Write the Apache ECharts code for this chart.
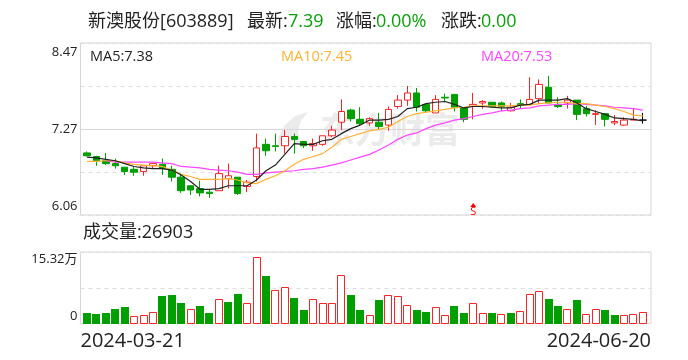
<!DOCTYPE html>
<html><head><meta charset="utf-8">
<style>html,body{margin:0;padding:0;background:#fff}#c{width:688px;height:360px}</style>
<script src="https://cdn.jsdelivr.net/npm/echarts@6/dist/echarts.min.js"></script>
</head><body><div id="c"></div>
<script>
const dates=['2024-03-21','2024-03-22','2024-03-25','2024-03-26','2024-03-27','2024-03-28','2024-03-29','2024-04-01','2024-04-02','2024-04-03','2024-04-08','2024-04-09','2024-04-10','2024-04-11','2024-04-12','2024-04-15','2024-04-16','2024-04-17','2024-04-18','2024-04-19','2024-04-22','2024-04-23','2024-04-24','2024-04-25','2024-04-26','2024-04-29','2024-04-30','2024-05-06','2024-05-07','2024-05-08','2024-05-09','2024-05-10','2024-05-13','2024-05-14','2024-05-15','2024-05-16','2024-05-17','2024-05-20','2024-05-21','2024-05-22','2024-05-23','2024-05-24','2024-05-27','2024-05-28','2024-05-29','2024-05-30','2024-05-31','2024-06-03','2024-06-04','2024-06-05','2024-06-06','2024-06-07','2024-06-11','2024-06-12','2024-06-13','2024-06-14','2024-06-17','2024-06-18','2024-06-19','2024-06-20'];
const opens=[6.93,6.88,6.82,6.78,6.73,6.70,6.67,6.75,6.77,6.70,6.59,6.47,6.43,6.38,6.40,6.57,6.59,6.46,6.60,7.05,7.03,7.03,7.16,7.09,7.03,7.05,7.17,7.36,7.53,7.40,7.35,7.36,7.32,7.58,7.67,7.77,7.61,7.49,7.71,7.75,7.56,7.58,7.63,7.64,7.63,7.52,7.62,7.61,7.69,7.85,7.61,7.63,7.67,7.55,7.47,7.48,7.35,7.32,7.39,7.39];
const closes=[6.89,6.82,6.78,6.75,6.67,6.66,6.75,6.78,6.71,6.59,6.40,6.41,6.37,6.36,6.64,6.61,6.36,6.52,7.00,6.96,7.02,7.16,7.12,7.03,7.06,7.17,7.25,7.51,7.41,7.34,7.41,7.30,7.54,7.67,7.77,7.57,7.52,7.68,7.70,7.57,7.40,7.61,7.65,7.58,7.58,7.57,7.60,7.68,7.89,7.63,7.58,7.67,7.47,7.48,7.48,7.40,7.37,7.39,7.40,7.39];
const lows=[6.88,6.75,6.76,6.71,6.62,6.61,6.61,6.71,6.62,6.53,6.37,6.34,6.32,6.30,6.40,6.43,6.34,6.38,6.53,6.89,6.95,6.92,6.92,7.00,6.96,7.03,7.15,7.25,7.37,7.32,7.31,7.26,7.24,7.55,7.59,7.51,7.49,7.49,7.64,7.51,7.36,7.40,7.55,7.56,7.52,7.51,7.55,7.61,7.62,7.63,7.56,7.55,7.39,7.44,7.32,7.30,7.32,7.31,7.39,7.34];
const highs=[6.95,6.89,6.93,6.85,6.73,6.74,6.75,6.78,6.85,6.75,6.65,6.47,6.54,6.41,6.75,6.78,6.59,6.55,7.20,7.13,7.20,7.25,7.20,7.09,7.13,7.17,7.31,7.68,7.55,7.57,7.43,7.49,7.58,7.74,7.87,7.84,7.61,7.74,7.76,7.75,7.56,7.77,7.67,7.64,7.65,7.63,7.68,7.99,7.96,8.01,7.71,7.73,7.67,7.59,7.53,7.48,7.46,7.43,7.56,7.49];
const ma5=[6.87,6.86,6.84,6.82,6.78,6.74,6.72,6.71,6.71,6.69,6.62,6.53,6.42,6.42,6.43,6.47,6.47,6.47,6.55,6.68,6.76,6.91,7.06,7.05,7.05,7.10,7.12,7.20,7.27,7.32,7.39,7.39,7.40,7.44,7.55,7.57,7.62,7.64,7.65,7.61,7.56,7.58,7.58,7.57,7.56,7.56,7.60,7.61,7.67,7.67,7.67,7.69,7.63,7.55,7.51,7.47,7.42,7.41,7.40,7.38];
const ma10=[6.81,6.81,6.82,6.82,6.79,6.77,6.76,6.75,6.74,6.69,6.63,6.60,6.56,6.56,6.56,6.57,6.55,6.51,6.50,6.56,6.61,6.68,6.77,6.84,6.88,6.92,7.01,7.12,7.16,7.20,7.24,7.26,7.29,7.37,7.44,7.48,7.50,7.52,7.54,7.56,7.57,7.59,7.59,7.59,7.59,7.59,7.60,7.60,7.62,7.63,7.64,7.64,7.62,7.62,7.60,7.58,7.55,7.51,7.46,7.45];
const ma20=['-','-',6.82,6.80,6.80,6.80,6.80,6.80,6.79,6.78,6.74,6.73,6.72,6.70,6.69,6.68,6.66,6.63,6.63,6.65,6.66,6.67,6.68,6.70,6.71,6.73,6.76,6.79,6.83,6.87,6.91,6.97,7.04,7.12,7.18,7.21,7.27,7.32,7.35,7.39,7.41,7.44,7.47,7.49,7.52,7.53,7.55,7.56,7.59,7.60,7.61,7.61,7.62,7.61,7.60,7.59,7.57,7.56,7.55,7.53];
const volumes=[2.29,2.06,2.29,3.43,3.66,1.75,1.98,2.67,6.40,6.63,4.80,3.35,3.89,2.51,5.64,5.03,6.86,4.72,15.32,10.97,7.70,8.38,5.72,3.20,5.64,4.72,4.72,11.13,6.63,3.20,1.98,5.26,6.55,6.32,4.27,3.20,2.74,3.81,1.98,3.89,2.51,4.72,2.44,2.29,2.21,2.51,2.90,6.78,7.47,5.49,3.89,3.35,5.26,2.21,3.35,3.20,1.83,1.98,2.21,2.69];
const volumeUp=[0,0,0,0,0,1,1,1,0,0,0,1,0,0,1,0,0,1,1,0,1,1,0,0,1,1,1,1,0,0,1,0,1,1,1,0,0,1,1,0,0,1,1,0,1,0,1,1,1,0,0,1,0,1,1,0,0,1,1,1];
const priceTicks=['{b|6.06}','','7.27','','{t|8.47}'];
const volumeTicks=['{b|0}','','{t|15.32万}'];
const dateTicks=['2024-03-21','2024-06-20'];
const signalIndex=41, signalPrice=6.2;
const headline=[['新澳股份[603889]',88,'#222'],['最新:',247,'#222'],['7.39',288,'#0a9f0a'],['涨幅:',336,'#222'],['0.00%',376,'#0a9f0a'],['涨跌:',441,'#222'],['0.00',481,'#0a9f0a']];
const maLabels=[['MA5:7.38',90,'#222'],['MA10:7.45',281,'#ffb233'],['MA20:7.53',481,'#ff45ff']];

const FONT='"Open Sans","Noto Sans CJK SC",sans-serif';
const RED='#f52528',GREEN='#009f00',LINE='#d5d5dc';
const L=80.5,W=570.5,IL=82.3,IW=565.2;
const T1=43,H1=172,T2=252,H2=71.5;
const txt=(s,x,y,size,color)=>({type:'text',x,y,z:50,style:{text:s,fontSize:size,fill:color,fontFamily:FONT,textVerticalAlign:'middle'}});
const graphic=[
 {type:'text',x:320,y:130,z:0,silent:true,style:{text:'东方财富',fontSize:35,fontWeight:'bold',fill:'rgba(190,190,190,0.3)',fontFamily:'"Noto Sans CJK SC"',textVerticalAlign:'middle'}},
 {type:'polygon',z:0,silent:true,shape:{points:[[277,147],[279,136],[285,125],[295,116],[308,112],[301,121],[298,131],[301,147],[294,141],[286,142]]},style:{fill:'rgba(190,190,190,0.3)'}},
 {type:'line',z:1,silent:true,shape:{x1:L,y1:129.5,x2:L+W,y2:129.5},style:{stroke:LINE,lineWidth:1}},
 ...headline.map(h=>txt(h[0],h[1],22,18,h[2])),
 ...maLabels.map(m=>txt(m[0],m[1],57,14.5,m[2])),
 txt('成交量:26903',83,233,18,'#222')
];
const hiddenAxis=(gridIndex,data)=>({type:'category',gridIndex,data,show:false});
const option={
 animation:false,backgroundColor:'#fff',textStyle:{fontFamily:FONT},
 graphic,
 grid:[
  {left:L,top:T1,width:W,height:H1,show:true,borderColor:LINE,borderWidth:1,backgroundColor:'transparent'},
  {left:IL,top:T1,width:IW,height:H1},
  {left:L,top:T2,width:W,height:H2,show:true,borderColor:LINE,borderWidth:1,backgroundColor:'transparent'},
  {left:IL,top:T2,width:IW,height:H2}
 ],
 xAxis:[
  hiddenAxis(0,dateTicks),
  hiddenAxis(1,dates),
  {type:'category',gridIndex:2,data:dateTicks,boundaryGap:false,axisLine:{show:false},axisTick:{show:false},splitLine:{show:false},
   axisLabel:{show:true,interval:0,margin:8,fontSize:20,color:'#222',fontFamily:FONT,alignMinLabel:'left',alignMaxLabel:'right'}},
  hiddenAxis(3,dates)
 ],
 yAxis:[
  {type:'value',gridIndex:0,min:0,max:4,interval:1,axisLine:{show:false},axisTick:{show:false},
   splitLine:{show:true,lineStyle:{color:'#dedede',type:[4,4],width:1}},
   axisLabel:{show:true,margin:3,fontSize:13,lineHeight:13,color:'#222',fontFamily:FONT,
    rich:{t:{fontSize:13,color:'#222',fontFamily:FONT,padding:[5,0,0,0]},b:{fontSize:13,color:'#222',fontFamily:FONT,padding:[0,0,4,0]}},
    verticalAlignMinLabel:'bottom',verticalAlignMaxLabel:'top',formatter:(v)=>priceTicks[v]}},
  {type:'value',gridIndex:1,min:6.06,max:8.47,show:false,splitLine:{show:false}},
  {type:'value',gridIndex:2,min:0,max:2,interval:1,axisLine:{show:false},axisTick:{show:false},
   splitLine:{show:true,lineStyle:{color:'#dedede',type:[4,4],width:1}},
   axisLabel:{show:true,margin:3,fontSize:13,lineHeight:13,color:'#222',fontFamily:FONT,
    rich:{t:{fontSize:13,color:'#222',fontFamily:FONT,padding:[2,0,0,0]},b:{fontSize:13,color:'#222',fontFamily:FONT,padding:[0,0,1,0]}},
    verticalAlignMinLabel:'bottom',verticalAlignMaxLabel:'top',formatter:(v)=>volumeTicks[v]}},
  {type:'value',gridIndex:3,min:0,max:16.35,show:false,splitLine:{show:false}}
 ],
 series:[
  {type:'candlestick',name:'K',xAxisIndex:1,yAxisIndex:1,barWidth:7,z:3,
   itemStyle:{color:'#fff',color0:GREEN,borderColor:RED,borderColor0:GREEN,borderWidth:1},
   data:dates.map((d,i)=>{const item={value:[opens[i],closes[i],lows[i],highs[i]]};
     if(opens[i]===closes[i])item.itemStyle={color:'#000',color0:'#000',borderColor:'#000',borderColor0:'#000',borderColorDoji:'#000'};return item;}),
   markPoint:{silent:true,symbol:'triangle',symbolSize:[6,4],itemStyle:{color:'#f00'},
     label:{show:true,position:'bottom',distance:-1,formatter:'S',color:'#f00',fontSize:11,fontFamily:FONT},
     data:[{coord:[dates[signalIndex],signalPrice]}]}},
  {type:'line',name:'MA20',xAxisIndex:1,yAxisIndex:1,data:ma20,symbol:'none',z:4,lineStyle:{color:'#ff45ff',width:1.2}},
  {type:'line',name:'MA10',xAxisIndex:1,yAxisIndex:1,data:ma10,symbol:'none',z:4,lineStyle:{color:'#ffb233',width:1.2}},
  {type:'line',name:'MA5',xAxisIndex:1,yAxisIndex:1,data:ma5,symbol:'none',z:5,lineStyle:{color:'#222',width:1.2}},
  {type:'custom',name:'成交量',xAxisIndex:3,yAxisIndex:3,z:3,encode:{x:0,y:1},
   data:volumes.map((v,i)=>[i,v,volumeUp[i]]),
   renderItem:(params,api)=>{
     const p=api.coord([api.value(0),api.value(1)]), base=api.coord([api.value(0),0]);
     const left=Math.round(p[0]-4), top=Math.round(p[1]), bottom=Math.round(base[1]);
     if(api.value(2)) return {type:'rect',shape:{x:left+0.5,y:top+0.5,width:7,height:bottom-top-1},style:{fill:'#fff',stroke:RED,lineWidth:1}};
     return {type:'rect',shape:{x:left,y:top,width:8,height:bottom-top},style:{fill:GREEN}};
   }}
 ]
};
echarts.init(document.getElementById('c'),null,{renderer:'canvas'}).setOption(option);
</script></body></html>
